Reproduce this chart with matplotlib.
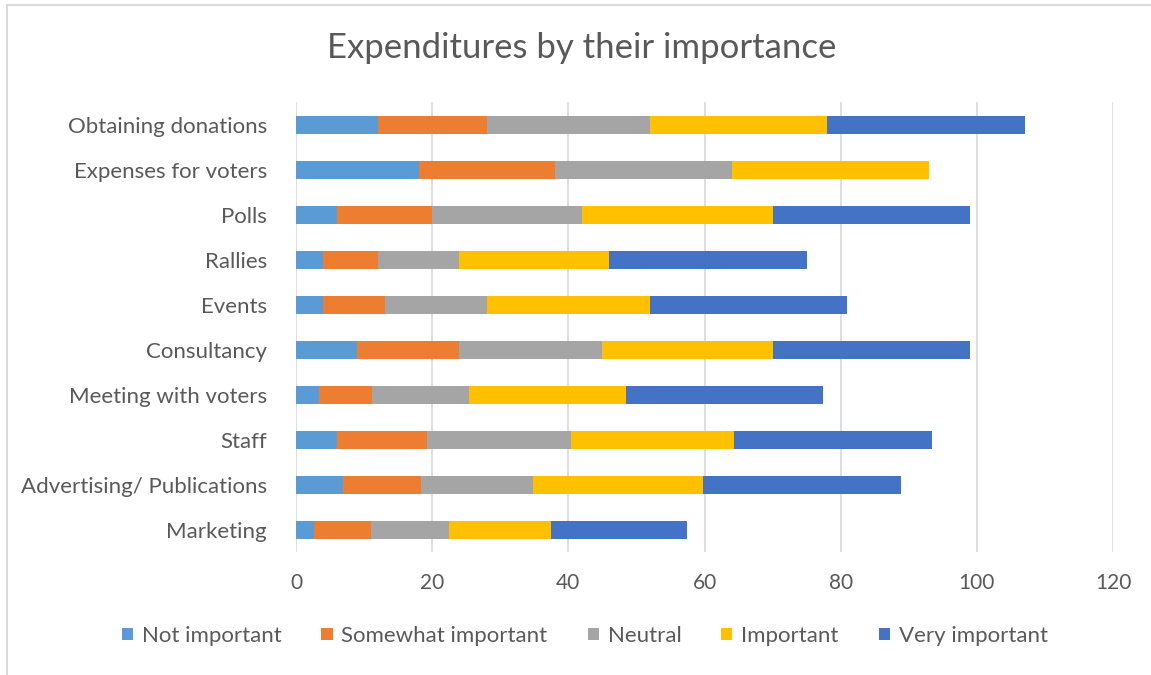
import numpy as np
import matplotlib.pyplot as plt
from matplotlib.patches import Rectangle

categories = ["Obtaining donations", "Expenses for voters", "Polls", "Rallies",
              "Events", "Consultancy", "Meeting with voters", "Staff",
              "Advertising/ Publications", "Marketing"]
series_names = ["Not important", "Somewhat important", "Neutral",
                "Important", "Very important"]
not_important = [12, 18, 6, 4, 4, 9, 3.4, 6, 6.9, 2.7]
somewhat_important = [16, 20, 14, 8, 9, 15, 7.8, 13.3, 11.5, 8.3]
neutral = [24, 26, 22, 12, 15, 21, 14.2, 21.1, 16.4, 11.4]
important = [26, 29, 28, 22, 24, 25, 23, 23.9, 25, 15]
very_important = [29, 0, 29, 29, 29, 29, 29, 29.1, 29.1, 20]
x_ticks = [0, 20, 40, 60, 80, 100, 120]

colors = ["#5b9bd5", "#ed7d31", "#a5a5a5", "#ffc000", "#4472c4"]
text_color = "#595959"
font = ["Lato", "DejaVu Sans"]

fig = plt.figure(figsize=(11.51, 6.75), dpi=100)
ax = fig.add_axes([0.2572, 0.1815, 0.7098, 0.6667])

# chart frame
fig.patches.append(Rectangle((7 / 1151, -0.05), 1.2, 1 - 5 / 675 + 0.05,
                             transform=fig.transFigure, fill=False,
                             edgecolor="#d9d9d9", linewidth=1.5))

y = np.arange(len(categories))
left = np.zeros(len(categories))
for name, vals, c in zip(series_names,
                         [not_important, somewhat_important, neutral,
                          important, very_important], colors):
    ax.barh(y, vals, left=left, height=0.4, color=c, label=name, zorder=3)
    left += np.array(vals)

ax.set_ylim(len(categories) - 0.5, -0.5)
ax.set_xlim(0, 120)
ax.set_xticks(x_ticks)
ax.set_yticks(y)
ax.set_yticklabels(categories, family=font, fontsize=16, color=text_color)
ax.set_xticklabels([str(t) for t in x_ticks], family=font, fontsize=15,
                   color=text_color)
ax.tick_params(axis="both", length=0)
ax.tick_params(axis="y", pad=21)
ax.tick_params(axis="x", pad=15)
ax.grid(axis="x", color="#d9d9d9", linewidth=1.2, zorder=0)
for s in ax.spines.values():
    s.set_visible(False)

fig.text(0.5057, 1 - 48 / 675, "Expenditures by their importance", ha="center",
         va="center", family=font, fontsize=25, color=text_color)

fig.legend(loc="center", bbox_to_anchor=(0.508, 1 - 636 / 675), ncol=5,
           frameon=False, prop={"family": font, "size": 16},
           labelcolor=text_color, handlelength=0.5, handleheight=0.5,
           handletextpad=0.4, columnspacing=1.8)

fig.savefig("out.png", dpi=100)
